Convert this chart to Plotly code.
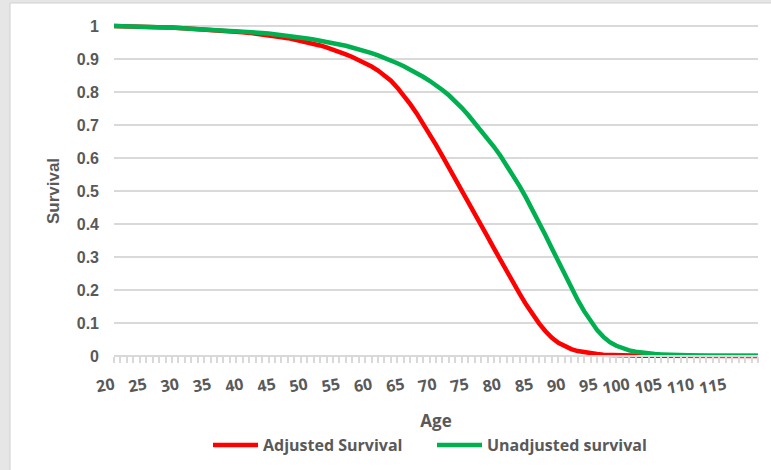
import plotly.graph_objects as go

# Ages 20..120, one point per year
ages = list(range(20, 121))

adjusted_survival = [
    1.000, 0.999, 0.999, 0.998, 0.998, 0.997, 0.997, 0.996, 0.995, 0.995,  # 20-29
    0.994, 0.993, 0.992, 0.991, 0.990, 0.989, 0.988, 0.986, 0.985, 0.983,  # 30-39
    0.981, 0.979, 0.977, 0.975, 0.972, 0.969, 0.966, 0.963, 0.959, 0.955,  # 40-49
    0.951, 0.946, 0.941, 0.935, 0.929, 0.922, 0.914, 0.906, 0.897, 0.888,  # 50-59
    0.877, 0.865, 0.851, 0.834, 0.813, 0.789, 0.763, 0.735, 0.705, 0.673,  # 60-69
    0.640, 0.606, 0.572, 0.537, 0.502, 0.467, 0.432, 0.397, 0.362, 0.326,  # 70-79
    0.290, 0.255, 0.221, 0.188, 0.156, 0.126, 0.099, 0.075, 0.055, 0.040,  # 80-89
    0.029, 0.021, 0.015, 0.011, 0.008, 0.006, 0.004, 0.003, 0.002, 0.002,  # 90-99
    0.001, 0.001, 0.001, 0.001, 0.001, 0.000, 0.000, 0.000, 0.000, 0.000,  # 100-109
    0.000, 0.000, 0.000, 0.000, 0.000, 0.000, 0.000, 0.000, 0.000, 0.000,  # 110-119
    0.000,                                                                 # 120
]

unadjusted_survival = [
    1.000, 0.999, 0.999, 0.998, 0.998, 0.997, 0.997, 0.996, 0.996, 0.995,  # 20-29
    0.994, 0.993, 0.993, 0.992, 0.991, 0.990, 0.989, 0.988, 0.987, 0.985,  # 30-39
    0.984, 0.982, 0.980, 0.979, 0.977, 0.975, 0.973, 0.970, 0.968, 0.965,  # 40-49
    0.962, 0.959, 0.956, 0.952, 0.948, 0.944, 0.940, 0.935, 0.930, 0.924,  # 50-59
    0.918, 0.911, 0.904, 0.896, 0.887, 0.878, 0.868, 0.857, 0.846, 0.834,  # 60-69
    0.821, 0.806, 0.790, 0.772, 0.752, 0.730, 0.707, 0.683, 0.659, 0.634,  # 70-79
    0.607, 0.578, 0.547, 0.514, 0.479, 0.443, 0.405, 0.366, 0.326, 0.286,  # 80-89
    0.246, 0.207, 0.170, 0.136, 0.105, 0.079, 0.058, 0.042, 0.031, 0.023,  # 90-99
    0.017, 0.013, 0.010, 0.008, 0.006, 0.005, 0.004, 0.003, 0.003, 0.002,  # 100-109
    0.002, 0.002, 0.001, 0.001, 0.001, 0.001, 0.001, 0.001, 0.001, 0.001,  # 110-119
    0.001,                                                                 # 120
]

age_tick_labels = list(range(20, 120, 5))
survival_ticks = [round(i * 0.1, 1) for i in range(11)]

TEXT = "#595959"
GRID = "#d9d9d9"

W, H = 771, 470
L, R, T, B = 114, 13, 22, 110
plot_h = H - T - B
y_lo, y_hi = -0.012, 1.012


def py(pixel_y):
    """Convert a pixel row to paper y."""
    return (H - B - pixel_y) / plot_h


def px(pixel_x):
    """Convert a pixel column to paper x."""
    return (pixel_x - L) / (W - L - R)


fig = go.Figure()
fig.add_trace(go.Scatter(
    x=ages, y=adjusted_survival, mode="lines", name="Adjusted Survival",
    line=dict(color="#ff0000", width=4.5),
))
fig.add_trace(go.Scatter(
    x=ages, y=unadjusted_survival, mode="lines", name="Unadjusted survival",
    line=dict(color="#00b050", width=4.5),
))

# white chart panel over a light grey frame
fig.add_shape(type="rect", xref="paper", yref="paper",
              x0=px(10), x1=px(W + 5), y0=py(H + 5), y1=py(3),
              fillcolor="white", line=dict(color="#d0d0d0", width=1),
              layer="below")

zero_pos = (0 - y_lo) / (y_hi - y_lo)

fig.update_layout(
    width=W, height=H,
    margin=dict(l=L, r=R, t=T, b=B, autoexpand=False),
    paper_bgcolor="#e6e6e6",
    plot_bgcolor="rgba(0,0,0,0)",
    font=dict(family="Liberation Sans, Arial, sans-serif", color=TEXT),
    showlegend=True,
    legend=dict(orientation="h", x=px(208), xanchor="left", y=py(445), yanchor="middle",
                font=dict(family="Open Sans, sans-serif", size=16, color=TEXT, weight="bold"),
                itemwidth=45, entrywidth=164, entrywidthmode="pixels",
                tracegroupgap=0, bgcolor="rgba(0,0,0,0)"),
    xaxis=dict(
        range=[20, 120], anchor="free", position=zero_pos,
        tickmode="array", tickvals=age_tick_labels,
        ticktext=[str(v) for v in age_tick_labels],
        tickangle=-10,
        tickfont=dict(family="Open Sans, sans-serif", size=16, color=TEXT, weight="bold"),
        ticks="outside", ticklen=6, tickcolor=GRID, tickwidth=1.5,
        ticklabelstandoff=7,
        minor=dict(dtick=1, tick0=20, ticks="outside", ticklen=6, tickcolor=GRID, tickwidth=1.5,
                   showgrid=False),
        showline=True, linecolor=GRID, linewidth=2,
        showgrid=False, zeroline=False,
        title=dict(text="Age", standoff=16,
                   font=dict(family="Open Sans, sans-serif", size=17, color=TEXT, weight="bold")),
    ),
    yaxis=dict(
        range=[y_lo, y_hi],
        tickmode="array", tickvals=survival_ticks,
        ticktext=[("%g" % v) for v in survival_ticks],
        tickfont=dict(size=16, color=TEXT, weight="bold"),
        ticklabelstandoff=14,
        showgrid=True, gridcolor=GRID, gridwidth=2,
        zeroline=False, showline=False, ticks="",
        title=dict(text="Survival", standoff=12,
                   font=dict(size=17, color=TEXT, weight="bold")),
    ),
)

fig.write_html("out.html")
